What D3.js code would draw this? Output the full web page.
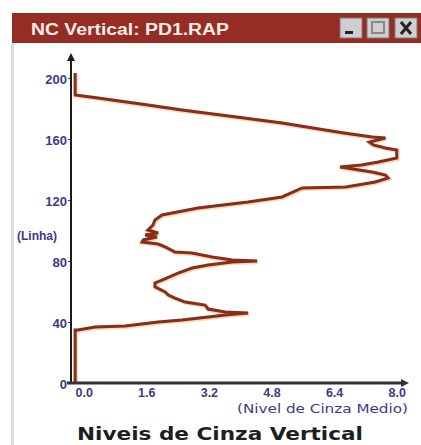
<!DOCTYPE html>
<html>
<head>
<meta charset="utf-8">
<script src="https://cdn.jsdelivr.net/npm/d3@7"></script>
<style>
  body { margin:0; background:#ffffff; }
  svg { display:block; }
</style>
</head>
<body>
<svg></svg>
<script>
var screen = {width:421,height:445}

// linha (eixo y) e nivel de cinza medio (eixo x)
var rows   = [0, 34.8, 34.8, 36.7, 37.4, 40.0, 41.3, 43.3, 44.6, 45.9, 46.6, 48.5, 51.1, 53.1, 55.7, 57.7,
              59.7, 63.0, 65.6, 67.5, 72.1, 75.4, 77.4, 79.3, 80.0, 80.7, 82.6, 85.2, 85.9, 89.2, 91.1,
              92.5, 93.8, 95.7, 97.0, 98.4, 100.3, 103.6, 106.9, 110.2, 114.8, 118.7, 122.0, 127.9,
              128.5, 131.8, 134.4, 136.4, 138.4, 141.6, 143.0, 144.9, 147.5, 152.8, 154.1, 156.1,
              158.0, 160.7, 161.3, 163.9, 165.9, 170.5, 174.4, 179.0, 182.3, 186.9, 188.9, 203.3]
var levels = [0.08, 0.08, 0.15, 0.59, 1.36, 2.20, 2.81, 3.48, 3.91, 4.50, 3.91, 3.48, 3.40, 2.89, 2.63, 2.46,
              2.38, 2.12, 2.12, 2.30, 2.71, 3.07, 3.48, 4.09, 4.73, 4.09, 3.58, 3.07, 2.63, 2.38, 2.20,
              1.79, 1.82, 2.17, 1.87, 2.20, 1.94, 2.07, 2.12, 2.30, 3.22, 4.50, 5.37, 5.88,
              7.00, 7.75, 8.08, 8.01, 7.67, 6.85, 7.40, 7.83, 8.30, 8.30, 8.01, 7.70,
              7.60, 8.01, 7.67, 6.95, 6.47, 5.37, 4.20, 2.81, 1.94, 0.66, 0.08, 0.08]

var yTicks = [0, 40, 80, 120, 160, 200]
var xTicks = [0, 1.6, 3.2, 4.8, 6.4, 8.0]

var windowTitle = "NC Vertical: PD1.RAP"
var yLabel = "(Linha)"
var xLabel = "(Nivel de Cinza Medio)"
var chartTitle = "Niveis de Cinza Vertical"

var svg = d3.select("svg")
    .attr("width",screen.width)
    .attr("height",screen.height)

var xScale = d3.scaleLinear()
    .domain([0, 8])
    .range([72, 385])
var yScale = d3.scaleLinear()
    .domain([0, 200])
    .range([383, 78])

var drawWindow = function()
{
    // borda esquerda da janela
    svg.append("rect")
        .attr("x", 11).attr("y", 43)
        .attr("width", 3).attr("height", screen.height - 43)
        .attr("fill", "#dcdcdc")

    svg.append("rect")
        .attr("x", 12).attr("y", 13)
        .attr("width", screen.width - 12).attr("height", 30)
        .attr("fill", "#952d24")

    svg.append("text")
        .attr("x", 31).attr("y", 35)
        .attr("textLength", 198)
        .attr("lengthAdjust", "spacingAndGlyphs")
        .attr("font-family", "Liberation Sans, Arial, sans-serif")
        .attr("font-weight", "bold")
        .attr("font-size", 16)
        .attr("fill", "#f4eee6")
        .text(windowTitle)

    var buttons = [340, 367, 395]
    buttons.forEach(function(bx, i)
    {
        var g = svg.append("g").attr("transform", "translate(" + bx + ",18)")
        g.append("rect").attr("width", 22).attr("height", 20).attr("fill", "#cfcfcf")
            .attr("stroke", "#7d7d7d").attr("stroke-width", 1)
        if (i == 0) {
            g.append("rect").attr("x", 5).attr("y", 13).attr("width", 8).attr("height", 3).attr("fill", "#222")
        } else if (i == 1) {
            g.append("rect").attr("x", 5).attr("y", 4).attr("width", 12).attr("height", 11)
                .attr("fill", "none").attr("stroke", "#888").attr("stroke-width", 2)
        } else {
            g.append("path").attr("d", "M6,4L16,16M16,4L6,16")
                .attr("stroke", "#222").attr("stroke-width", 3)
        }
    })
}

var drawAxes = function()
{
    var labelColor = "#3b3a8a"

    var yAxis = d3.axisLeft(yScale)
        .tickValues(yTicks)
        .tickSize(3)
        .tickPadding(1)
        .tickFormat(d3.format("d"))
    var gy = svg.append("g")
        .attr("transform", "translate(" + (xScale(0) - 1) + ",0)")
        .call(yAxis)
    gy.select(".domain").remove()
    gy.selectAll("line").attr("stroke", labelColor)
    gy.selectAll("text")
        .attr("font-family", "Liberation Sans, Arial, sans-serif")
        .attr("font-weight", "bold")
        .attr("font-size", 13)
        .attr("fill", labelColor)
        .attr("dy", "0.4em")

    var xAxis = d3.axisBottom(xScale)
        .tickValues(xTicks)
        .tickSize(0)
        .tickPadding(5)
        .tickFormat(d3.format(".1f"))
    var gx = svg.append("g")
        .attr("transform", "translate(0," + yScale(0) + ")")
        .call(xAxis)
    gx.select(".domain").remove()
    gx.selectAll("text")
        .attr("text-anchor", "start")
        .attr("dx", 3)
        .attr("font-family", "Liberation Sans, Arial, sans-serif")
        .attr("font-weight", "bold")
        .attr("font-size", 12.5)
        .attr("fill", labelColor)

    svg.append("text")
        .attr("x", 17).attr("y", yScale(94))
        .attr("font-family", "Liberation Sans, Arial, sans-serif")
        .attr("font-weight", "bold")
        .attr("font-size", 12)
        .attr("fill", labelColor)
        .text(yLabel)

    svg.append("text")
        .attr("x", 237).attr("y", 413)
        .attr("textLength", 171)
        .attr("lengthAdjust", "spacingAndGlyphs")
        .attr("font-family", "DejaVu Sans, Verdana, sans-serif")
        .attr("font-size", 11.5)
        .attr("fill", labelColor)
        .text(xLabel)

    svg.append("text")
        .attr("x", 77).attr("y", 440)
        .attr("textLength", 286)
        .attr("lengthAdjust", "spacingAndGlyphs")
        .attr("font-family", "DejaVu Sans, Verdana, sans-serif")
        .attr("font-weight", "bold")
        .attr("font-size", 17)
        .attr("fill", "#1e1e1e")
        .text(chartTitle)

    // eixos com setas
    var x0 = xScale(0) - 1
    var y0 = yScale(0)
    var yTop = yScale(200) - 25
    var xEnd = xScale(8) + 24
    svg.append("line")
        .attr("x1", x0).attr("y1", y0 + 1).attr("x2", x0).attr("y2", yTop + 4)
        .attr("stroke", "#1c1c1c").attr("stroke-width", 2)
    svg.append("path")
        .attr("d", "M" + (x0 - 4) + "," + (yTop + 8) + "L" + x0 + "," + yTop + "L" + (x0 + 4) + "," + (yTop + 8) + "Z")
        .attr("fill", "#1c1c1c")
    svg.append("line")
        .attr("x1", x0 - 4).attr("y1", y0).attr("x2", xEnd - 4).attr("y2", y0)
        .attr("stroke", "#333").attr("stroke-width", 3)
    svg.append("path")
        .attr("d", "M" + (xEnd - 8) + "," + (y0 - 4) + "L" + xEnd + "," + y0 + "L" + (xEnd - 8) + "," + (y0 + 4) + "Z")
        .attr("fill", "#333")
}

var drawCurve = function()
{
    var points = rows.map(function(r, i){ return [levels[i], r] })

    var linegenerator = d3.line()
        .x(function(p){ return xScale(p[0]) })
        .y(function(p){ return yScale(p[1]) })

    svg.append("path")
        .datum(points)
        .attr("d", linegenerator)
        .attr("fill", "none")
        .attr("stroke", "#e0b060")
        .attr("stroke-opacity", 0.45)
        .attr("stroke-width", 4.5)
        .attr("transform", "translate(0.8,0.8)")

    svg.append("path")
        .datum(points)
        .attr("d", linegenerator)
        .attr("fill", "none")
        .attr("stroke", "#8a2c1c")
        .attr("stroke-width", 3)
        .attr("stroke-linejoin", "miter")
}

drawWindow()
drawCurve()
drawAxes()
</script>
</body>
</html>
